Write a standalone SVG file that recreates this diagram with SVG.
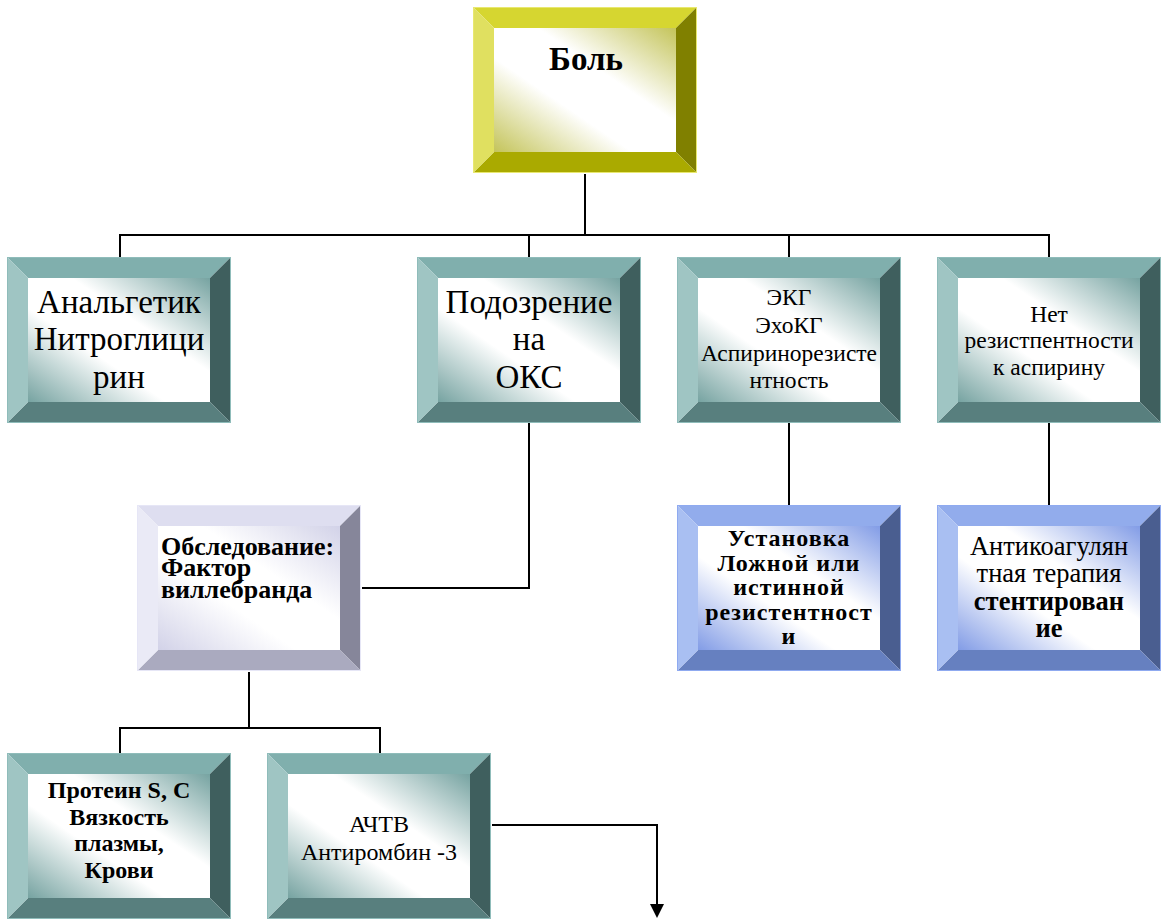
<svg xmlns="http://www.w3.org/2000/svg" xmlns:xlink="http://www.w3.org/1999/xlink" width="1162" height="921" viewBox="0 0 1162 921">
<style>
text{font-family:"Liberation Serif","Times New Roman",serif;fill:#000;text-anchor:middle}
.b{font-weight:bold}
.conn{fill:none;stroke:#000;stroke-width:2}
</style>
<defs>
<linearGradient id="gY" x1="1" y1="0" x2="0" y2="1"><stop offset="0" stop-color="#c4c45a"/><stop offset="0.38" stop-color="#fff"/><stop offset="0.62" stop-color="#fff"/><stop offset="1" stop-color="#c4c45a"/></linearGradient>
<linearGradient id="gT" x1="1" y1="0" x2="0" y2="1"><stop offset="0" stop-color="#76a3a1"/><stop offset="0.38" stop-color="#fff"/><stop offset="0.62" stop-color="#fff"/><stop offset="1" stop-color="#76a3a1"/></linearGradient>
<linearGradient id="gL" x1="1" y1="0" x2="0" y2="1"><stop offset="0" stop-color="#d2d2e8"/><stop offset="0.38" stop-color="#fff"/><stop offset="0.62" stop-color="#fff"/><stop offset="1" stop-color="#d2d2e8"/></linearGradient>
<linearGradient id="gB" x1="1" y1="0" x2="0" y2="1"><stop offset="0" stop-color="#829ce6"/><stop offset="0.38" stop-color="#fff"/><stop offset="0.62" stop-color="#fff"/><stop offset="1" stop-color="#829ce6"/></linearGradient>
<g id="bY">
<polygon points="0,0 224,0 203,21 21,21" fill="#d6d630"/>
<polygon points="224,0 224,166 203,145 203,21" fill="#808000"/>
<polygon points="0,166 224,166 203,145 21,145" fill="#aaaa00"/>
<polygon points="0,0 21,21 21,145 0,166" fill="#e0e060"/>
<rect x="21" y="21" width="182" height="124" fill="url(#gY)"/>
<rect x="0.5" y="0.5" width="223" height="165" fill="none" stroke="#e8e870" stroke-width="1"/>
</g>
<g id="bT">
<polygon points="0,0 224,0 203,21 21,21" fill="#80afad"/>
<polygon points="224,0 224,166 203,145 203,21" fill="#3f5f5e"/>
<polygon points="0,166 224,166 203,145 21,145" fill="#587f7e"/>
<polygon points="0,0 21,21 21,145 0,166" fill="#9fc5c3"/>
<rect x="21" y="21" width="182" height="124" fill="url(#gT)"/>
<rect x="0.5" y="0.5" width="223" height="165" fill="none" stroke="#8fbcba" stroke-width="1"/>
</g>
<g id="bL">
<polygon points="0,0 224,0 203,21 21,21" fill="#dedef0"/>
<polygon points="224,0 224,166 203,145 203,21" fill="#86869a"/>
<polygon points="0,166 224,166 203,145 21,145" fill="#aaaabf"/>
<polygon points="0,0 21,21 21,145 0,166" fill="#eaeaf6"/>
<rect x="21" y="21" width="182" height="124" fill="url(#gL)"/>
<rect x="0.5" y="0.5" width="223" height="165" fill="none" stroke="#e6e6f6" stroke-width="1"/>
</g>
<g id="bB">
<polygon points="0,0 224,0 203,21 21,21" fill="#92acec"/>
<polygon points="224,0 224,166 203,145 203,21" fill="#4a5e90"/>
<polygon points="0,166 224,166 203,145 21,145" fill="#6680c0"/>
<polygon points="0,0 21,21 21,145 0,166" fill="#a9bff2"/>
<rect x="21" y="21" width="182" height="124" fill="url(#gB)"/>
<rect x="0.5" y="0.5" width="223" height="165" fill="none" stroke="#8faaf0" stroke-width="1"/>
</g>
</defs>
<rect width="1162" height="921" fill="#fff"/>
<g id="connectors">
<path class="conn" d="M585 174 V235 M120 235 H1050 M120 234 V257 M529 235 V257 M789 235 V257 M1049 234 V257"/>
<path class="conn" d="M529 423 V588 H362"/>
<path class="conn" d="M789 423 V505 M1049 423 V505"/>
<path class="conn" d="M249 672 V728 M120 728 H380 M120 727 V753 M380 727 V753"/>
<path class="conn" d="M492 825 H657 V905"/>
<polygon points="650,904 664,904 657,918" fill="#000"/>
</g>
<g id="n-bol"><use xlink:href="#bY" x="473" y="7"/><text class="b" x="586" y="70" font-size="33">Боль</text></g>
<g id="n-analg"><use xlink:href="#bT" x="7" y="257"/><text x="119" font-size="33"><tspan x="119" y="313">Анальгетик</tspan><tspan x="119" y="350">Нитроглици</tspan><tspan x="119" y="388">рин</tspan></text></g>
<g id="n-oks"><use xlink:href="#bT" x="417" y="257"/><text x="529" font-size="33"><tspan x="529" y="313">Подозрение</tspan><tspan x="529" y="350">на</tspan><tspan x="529" y="388">ОКС</tspan></text></g>
<g id="n-ekg"><use xlink:href="#bT" x="677" y="257"/><text x="789" font-size="23.5"><tspan x="789" y="305">ЭКГ</tspan><tspan x="789" y="333">ЭхоКГ</tspan><tspan x="789" y="361">Аспиринорезисте</tspan><tspan x="789" y="388">нтность</tspan></text></g>
<g id="n-net"><use xlink:href="#bT" x="937" y="257"/><text x="1049" font-size="23.5"><tspan x="1049" y="322">Нет</tspan><tspan x="1049" y="348">резистпентности</tspan><tspan x="1049" y="375">к аспирину</tspan></text></g>
<g id="n-obsl"><use xlink:href="#bL" x="137" y="505"/><text class="b" font-size="26" style="text-anchor:start"><tspan x="161" y="555">Обследование:</tspan><tspan x="161" y="576">Фактор</tspan><tspan x="161" y="598">виллебранда</tspan></text></g>
<g id="n-ust"><use xlink:href="#bB" x="677" y="505"/><text class="b" x="789" font-size="24" letter-spacing="1"><tspan x="789" y="546">Установка</tspan><tspan x="789" y="571">Ложной или</tspan><tspan x="789" y="595">истинной</tspan><tspan x="789" y="620">резистентност</tspan><tspan x="789" y="644">и</tspan></text></g>
<g id="n-antik"><use xlink:href="#bB" x="937" y="505"/><text x="1049" font-size="26.5"><tspan x="1049" y="555">Антикоагулян</tspan><tspan x="1049" y="582">тная терапия</tspan><tspan class="b" x="1049" y="610">стентирован</tspan><tspan class="b" x="1049" y="637">ие</tspan></text></g>
<g id="n-prot"><use xlink:href="#bT" x="7" y="753"/><text class="b" x="119" font-size="24"><tspan x="119" y="798">Протеин S, C</tspan><tspan x="119" y="825">Вязкость</tspan><tspan x="119" y="851">плазмы,</tspan><tspan x="119" y="878">Крови</tspan></text></g>
<g id="n-achtv"><use xlink:href="#bT" x="267" y="753"/><text x="379" font-size="24"><tspan x="379" y="832">АЧТВ</tspan><tspan x="379" y="860">Антиромбин -3</tspan></text></g>
</svg>
